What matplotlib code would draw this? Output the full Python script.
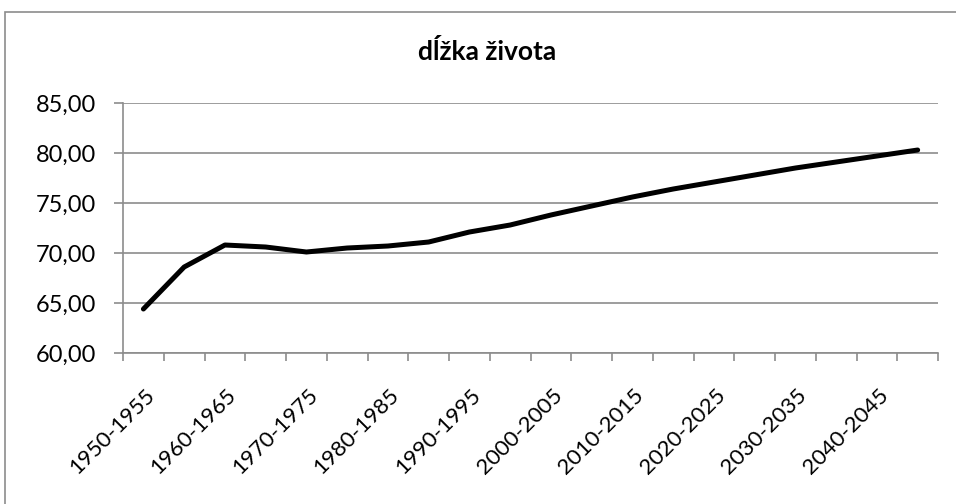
import matplotlib
matplotlib.use('Agg')
import matplotlib.pyplot as plt
from matplotlib.patches import Rectangle
from matplotlib.ticker import FuncFormatter
from matplotlib.transforms import ScaledTranslation

# obdobia a hodnoty (odčítané z grafu)
obdobia = ['1950-1955', '1955-1960', '1960-1965', '1965-1970', '1970-1975',
           '1975-1980', '1980-1985', '1985-1990', '1990-1995', '1995-2000',
           '2000-2005', '2005-2010', '2010-2015', '2015-2020', '2020-2025',
           '2025-2030', '2030-2035', '2035-2040', '2040-2045', '2045-2050']
dlzka = [64.4, 68.6, 70.8, 70.6, 70.1, 70.5, 70.7, 71.1, 72.1, 72.8,
         73.8, 74.7, 75.6, 76.4, 77.1, 77.8, 78.5, 79.1, 79.7, 80.3]

plt.rcParams['font.family'] = ['Lato', 'DejaVu Sans']
seda = '#8c8c8c'

fig = plt.figure(figsize=(9.56, 5.04), dpi=100)
fig.patches.append(Rectangle((0.0052, -0.1), 1.2, 1.076, transform=fig.transFigure,
                             fill=False, edgecolor=seda, linewidth=1.2))

ax = fig.add_axes([0.1287, 0.2996, 0.8525, 0.496])
x = list(range(len(obdobia)))
ax.plot(x, dlzka, color='black', linewidth=3.6, solid_capstyle='round',
        solid_joinstyle='round', zorder=3)

ax.set_xlim(-0.5, len(obdobia) - 0.5)
ax.set_ylim(60, 85)
ax.set_yticks([60, 65, 70, 75, 80, 85])
ax.yaxis.set_major_formatter(FuncFormatter(lambda v, p: f'{v:.2f}'.replace('.', ',')))
ax.grid(axis='y', color=seda, linewidth=1.2)
ax.set_axisbelow(True)

# hlavné značky na hraniciach kategórií, popisy každú druhú kategóriu
ax.set_xticks([i - 0.5 for i in range(len(obdobia) + 1)])
ax.set_xticklabels([])
ax.set_xticks(x[::2], minor=True)
ax.set_xticklabels(obdobia[::2], minor=True, rotation=45, ha='right', va='center',
                   rotation_mode='anchor', fontsize=16)
ax.tick_params(axis='x', which='minor', length=0, pad=28)
ax.tick_params(axis='x', which='major', length=6, color=seda, width=1.2)
ax.tick_params(axis='y', length=6.5, color=seda, width=1.2, labelsize=17, pad=13)
posun = ScaledTranslation(6 / 72, 0, fig.dpi_scale_trans)
for t in ax.get_xticklabels(minor=True):
    t.set_transform(t.get_transform() + posun)

for s in ['top', 'right']:
    ax.spines[s].set_visible(False)
for s in ['left', 'bottom']:
    ax.spines[s].set_color(seda)
    ax.spines[s].set_linewidth(1.2)

fig.text(0.510, 0.897, 'dĺžka života', ha='center', va='center',
         fontsize=19, fontweight='bold')

fig.savefig('out.png', dpi=100)
